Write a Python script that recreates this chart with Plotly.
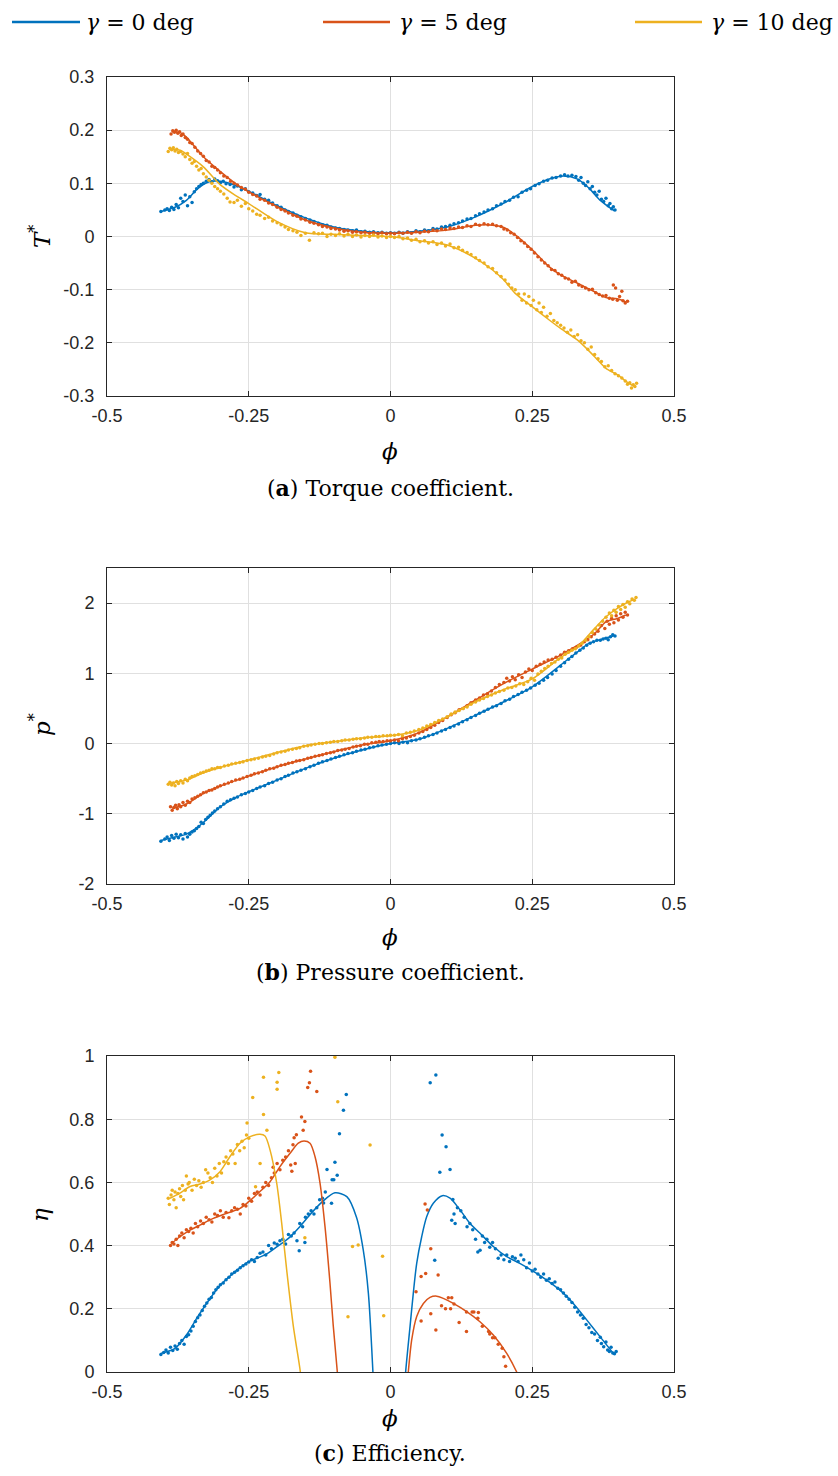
import plotly.graph_objects as go

W, H = 838, 1476

BLUE = "#0072BD"
ORANGE = "#D95319"
YELLOW = "#EDB120"

SERIES_NAMES = ["γ = 0 deg", "γ = 5 deg", "γ = 10 deg"]

X_TICKS = [-0.5, -0.25, 0, 0.25, 0.5]
X_TICK_TEXT = ["-0.5", "-0.25", "0", "0.25", "0.5"]
T_TICKS = [-0.3, -0.2, -0.1, 0, 0.1, 0.2, 0.3]
T_TICK_TEXT = ["-0.3", "-0.2", "-0.1", "0", "0.1", "0.2", "0.3"]
P_TICKS = [-2, -1, 0, 1, 2]
P_TICK_TEXT = ["-2", "-1", "0", "1", "2"]
E_TICKS = [0, 0.2, 0.4, 0.6, 0.8, 1.0]
E_TICK_TEXT = ["0", "0.2", "0.4", "0.6", "0.8", "1"]

# ---------------- (a) torque coefficient: fitted lines ----------------
T_BLUE_LINE_X = [-0.405, -0.38, -0.36, -0.34, -0.32, -0.30, -0.27, -0.25, -0.2, -0.15, -0.1, -0.05, 0, 0.05, 0.1, 0.15, 0.2, 0.25, 0.28, 0.305, 0.33, 0.35, 0.37, 0.395]
T_BLUE_LINE_Y = [0.047, 0.055, 0.068, 0.09, 0.103, 0.104, 0.095, 0.085, 0.058, 0.035, 0.018, 0.01, 0.007, 0.01, 0.018, 0.037, 0.063, 0.094, 0.108, 0.114, 0.108, 0.091, 0.068, 0.048]
T_ORANGE_LINE_X = [-0.385, -0.37, -0.36, -0.33, -0.3, -0.27, -0.25, -0.2, -0.15, -0.1, -0.05, 0, 0.05, 0.1, 0.15, 0.17, 0.2, 0.22, 0.25, 0.28, 0.3, 0.33, 0.36, 0.38, 0.4, 0.415]
T_ORANGE_LINE_Y = [0.197, 0.195, 0.187, 0.15, 0.122, 0.097, 0.084, 0.056, 0.031, 0.016, 0.008, 0.006, 0.008, 0.012, 0.021, 0.022, 0.017, 0.003, -0.025, -0.057, -0.072, -0.088, -0.104, -0.115, -0.117, -0.123]
T_YELLOW_LINE_X = [-0.39, -0.37, -0.36, -0.33, -0.3, -0.27, -0.25, -0.2, -0.15, -0.1, -0.05, 0, 0.05, 0.1, 0.15, 0.18, 0.2, 0.22, 0.25, 0.28, 0.3, 0.33, 0.36, 0.38, 0.4, 0.42, 0.43]
T_YELLOW_LINE_Y = [0.164, 0.162, 0.155, 0.131, 0.097, 0.075, 0.062, 0.028, 0.007, 0.004, 0.002, 0.0, -0.008, -0.016, -0.041, -0.063, -0.082, -0.107, -0.132, -0.157, -0.173, -0.195, -0.226, -0.248, -0.26, -0.276, -0.282]

# ---------------- (a) torque coefficient: measured points ----------------
T_BLUE_DOTS = [(-0.405, 0.047), (-0.398, 0.05), (-0.394, 0.052), (-0.39, 0.049), (-0.386, 0.055), (-0.382, 0.051), (-0.378, 0.06), (-0.374, 0.054), (-0.37, 0.072), (-0.366, 0.066), (-0.362, 0.078), (-0.358, 0.058), (-0.354, 0.075), (-0.35, 0.064), (-0.346, 0.084), (-0.342, 0.09), (-0.338, 0.094), (-0.334, 0.098), (-0.33, 0.1), (-0.325, 0.104), (-0.32, 0.107), (-0.315, 0.103), (-0.31, 0.108), (-0.305, 0.105), (-0.3, 0.101), (-0.295, 0.104), (-0.29, 0.099), (-0.283, 0.098), (-0.276, 0.093), (-0.27, 0.095), (-0.263, 0.088), (-0.256, 0.09), (-0.25, 0.084), (-0.243, 0.082), (-0.236, 0.077), (-0.23, 0.079), (-0.222, 0.07), (-0.215, 0.068), (-0.208, 0.063), (-0.2, 0.058), (-0.193, 0.055), (-0.186, 0.05), (-0.18, 0.047), (-0.172, 0.044), (-0.165, 0.04), (-0.158, 0.037), (-0.15, 0.034), (-0.142, 0.031), (-0.135, 0.028), (-0.127, 0.025), (-0.12, 0.022), (-0.112, 0.021), (-0.105, 0.018), (-0.097, 0.016), (-0.09, 0.015), (-0.082, 0.013), (-0.075, 0.012), (-0.067, 0.011), (-0.06, 0.012), (-0.052, 0.009), (-0.045, 0.01), (-0.037, 0.008), (-0.03, 0.009), (-0.022, 0.007), (-0.015, 0.008), (-0.007, 0.006), (0.0, 0.007),
               (0.007, 0.006), (0.015, 0.008), (0.022, 0.006), (0.03, 0.009), (0.037, 0.007), (0.045, 0.011), (0.052, 0.009), (0.06, 0.012), (0.067, 0.011), (0.075, 0.015), (0.082, 0.014), (0.09, 0.018), (0.097, 0.019), (0.105, 0.021), (0.112, 0.024), (0.12, 0.026), (0.127, 0.029), (0.135, 0.033), (0.142, 0.034), (0.15, 0.039), (0.157, 0.043), (0.165, 0.046), (0.172, 0.05), (0.18, 0.052), (0.187, 0.058), (0.195, 0.061), (0.202, 0.066), (0.21, 0.068), (0.217, 0.074), (0.225, 0.075), (0.232, 0.083), (0.24, 0.087), (0.247, 0.09), (0.255, 0.096), (0.262, 0.099), (0.27, 0.104), (0.277, 0.106), (0.285, 0.11), (0.292, 0.111), (0.3, 0.114), (0.307, 0.116), (0.313, 0.114), (0.32, 0.115), (0.327, 0.113), (0.332, 0.106), (0.336, 0.111), (0.34, 0.1), (0.344, 0.096), (0.348, 0.103), (0.352, 0.09), (0.356, 0.094), (0.36, 0.083), (0.364, 0.078), (0.368, 0.085), (0.372, 0.07), (0.376, 0.066), (0.38, 0.072), (0.384, 0.058), (0.387, 0.062), (0.39, 0.052), (0.393, 0.056), (0.396, 0.05)]
T_ORANGE_DOTS = [(-0.387, 0.193), (-0.384, 0.199), (-0.381, 0.196), (-0.378, 0.2), (-0.375, 0.194), (-0.372, 0.197), (-0.369, 0.19), (-0.366, 0.193), (-0.362, 0.186), (-0.358, 0.183), (-0.354, 0.177), (-0.35, 0.175), (-0.345, 0.168), (-0.34, 0.161), (-0.335, 0.156), (-0.33, 0.151), (-0.325, 0.143), (-0.32, 0.14), (-0.315, 0.132), (-0.31, 0.13), (-0.305, 0.125), (-0.3, 0.12), (-0.294, 0.114), (-0.288, 0.111), (-0.282, 0.104), (-0.276, 0.1), (-0.27, 0.097), (-0.263, 0.092), (-0.256, 0.089), (-0.25, 0.083), (-0.243, 0.079), (-0.236, 0.076), (-0.23, 0.07), (-0.222, 0.068), (-0.215, 0.063), (-0.208, 0.06), (-0.2, 0.055), (-0.193, 0.051), (-0.186, 0.048), (-0.18, 0.044), (-0.172, 0.04), (-0.165, 0.038), (-0.158, 0.033), (-0.15, 0.031), (-0.142, 0.027), (-0.135, 0.025), (-0.127, 0.022), (-0.12, 0.019), (-0.112, 0.018), (-0.105, 0.015), (-0.097, 0.014), (-0.09, 0.012), (-0.082, 0.01), (-0.075, 0.011), (-0.067, 0.008), (-0.06, 0.009), (-0.052, 0.007), (-0.045, 0.008), (-0.037, 0.006), (-0.03, 0.007), (-0.022, 0.005), (-0.015, 0.007), (-0.007, 0.005), (0.0, 0.006),
                 (0.007, 0.005), (0.015, 0.007), (0.022, 0.006), (0.03, 0.008), (0.037, 0.006), (0.045, 0.009), (0.052, 0.007), (0.06, 0.01), (0.067, 0.009), (0.075, 0.012), (0.082, 0.011), (0.09, 0.014), (0.097, 0.013), (0.105, 0.016), (0.112, 0.015), (0.12, 0.018), (0.127, 0.017), (0.135, 0.02), (0.142, 0.019), (0.15, 0.023), (0.157, 0.021), (0.165, 0.024), (0.172, 0.022), (0.18, 0.023), (0.187, 0.02), (0.195, 0.019), (0.2, 0.014), (0.206, 0.012), (0.212, 0.007), (0.218, 0.004), (0.224, -0.002), (0.23, -0.008), (0.236, -0.012), (0.242, -0.019), (0.248, -0.024), (0.254, -0.031), (0.26, -0.038), (0.266, -0.044), (0.272, -0.05), (0.278, -0.055), (0.284, -0.062), (0.29, -0.064), (0.296, -0.07), (0.302, -0.073), (0.308, -0.078), (0.314, -0.08), (0.32, -0.086), (0.326, -0.084), (0.332, -0.091), (0.338, -0.094), (0.344, -0.097), (0.35, -0.1), (0.356, -0.099), (0.362, -0.106), (0.368, -0.109), (0.374, -0.112), (0.38, -0.111), (0.386, -0.116), (0.392, -0.118), (0.393, -0.091), (0.397, -0.097), (0.4, -0.12), (0.404, -0.113), (0.408, -0.103), (0.41, -0.121), (0.414, -0.125), (0.418, -0.122)]
T_YELLOW_DOTS = [(-0.392, 0.16), (-0.389, 0.166), (-0.386, 0.163), (-0.383, 0.167), (-0.38, 0.161), (-0.377, 0.164), (-0.374, 0.158), (-0.37, 0.16), (-0.366, 0.155), (-0.362, 0.15), (-0.358, 0.156), (-0.354, 0.145), (-0.35, 0.138), (-0.346, 0.141), (-0.342, 0.132), (-0.338, 0.125), (-0.334, 0.128), (-0.33, 0.118), (-0.325, 0.112), (-0.32, 0.106), (-0.315, 0.1), (-0.31, 0.094), (-0.305, 0.09), (-0.3, 0.085), (-0.294, 0.08), (-0.288, 0.072), (-0.283, 0.065), (-0.276, 0.064), (-0.27, 0.068), (-0.263, 0.057), (-0.256, 0.062), (-0.25, 0.052), (-0.243, 0.048), (-0.236, 0.042), (-0.23, 0.04), (-0.222, 0.034), (-0.215, 0.036), (-0.208, 0.029), (-0.2, 0.026), (-0.193, 0.022), (-0.186, 0.018), (-0.18, 0.013), (-0.172, 0.011), (-0.165, 0.008), (-0.158, 0.002), (-0.15, 0.006), (-0.143, -0.007), (-0.135, 0.007), (-0.127, 0.005), (-0.12, 0.006), (-0.112, 0.0), (-0.105, 0.004), (-0.097, 0.002), (-0.09, 0.005), (-0.082, 0.001), (-0.075, 0.004), (-0.067, 0.0), (-0.06, 0.003), (-0.052, -0.001), (-0.045, 0.002), (-0.037, 0.0), (-0.03, 0.003), (-0.022, -0.001), (-0.015, 0.001), (-0.007, -0.002), (0.0, 0.0),
                 (0.007, -0.002), (0.015, 0.0), (0.022, -0.004), (0.03, -0.003), (0.037, -0.007), (0.045, -0.005), (0.052, -0.01), (0.06, -0.008), (0.067, -0.012), (0.075, -0.01), (0.082, -0.015), (0.09, -0.012), (0.097, -0.018), (0.105, -0.014), (0.112, -0.021), (0.12, -0.02), (0.127, -0.026), (0.135, -0.03), (0.142, -0.034), (0.15, -0.04), (0.157, -0.045), (0.165, -0.05), (0.172, -0.057), (0.18, -0.06), (0.187, -0.068), (0.195, -0.075), (0.202, -0.082), (0.208, -0.09), (0.214, -0.097), (0.22, -0.1), (0.226, -0.108), (0.232, -0.12), (0.236, -0.108), (0.24, -0.125), (0.244, -0.113), (0.248, -0.13), (0.252, -0.12), (0.258, -0.138), (0.262, -0.125), (0.266, -0.143), (0.27, -0.133), (0.276, -0.15), (0.282, -0.145), (0.288, -0.158), (0.294, -0.162), (0.3, -0.167), (0.306, -0.172), (0.312, -0.18), (0.318, -0.176), (0.324, -0.188), (0.33, -0.185), (0.336, -0.196), (0.342, -0.2), (0.348, -0.212), (0.354, -0.208), (0.36, -0.222), (0.366, -0.23), (0.372, -0.235), (0.378, -0.245), (0.384, -0.243), (0.39, -0.252), (0.396, -0.258), (0.402, -0.262), (0.408, -0.266), (0.414, -0.272), (0.418, -0.278), (0.422, -0.275), (0.425, -0.285), (0.428, -0.279), (0.431, -0.282), (0.434, -0.276)]

# ---------------- (b) pressure coefficient: fitted lines ----------------
P_BLUE_LINE_X = [-0.405, -0.38, -0.36, -0.34, -0.32, -0.3, -0.27, -0.25, -0.2, -0.15, -0.1, -0.05, 0, 0.05, 0.1, 0.15, 0.2, 0.25, 0.3, 0.33, 0.35, 0.37, 0.395]
P_BLUE_LINE_Y = [-1.38, -1.33, -1.29, -1.19, -1.05, -0.9, -0.757, -0.686, -0.52, -0.354, -0.21, -0.092, 0.0, 0.06, 0.216, 0.405, 0.595, 0.808, 1.117, 1.307, 1.426, 1.48, 1.54]
P_ORANGE_LINE_X = [-0.385, -0.36, -0.33, -0.3, -0.25, -0.2, -0.15, -0.1, -0.05, 0, 0.05, 0.1, 0.15, 0.2, 0.25, 0.3, 0.33, 0.36, 0.38, 0.4, 0.415]
P_ORANGE_LINE_Y = [-0.922, -0.86, -0.71, -0.605, -0.463, -0.33, -0.22, -0.116, -0.02, 0.04, 0.154, 0.38, 0.62, 0.857, 1.06, 1.26, 1.40, 1.568, 1.733, 1.78, 1.83]
P_YELLOW_LINE_X = [-0.39, -0.36, -0.33, -0.3, -0.25, -0.2, -0.15, -0.1, -0.05, 0, 0.05, 0.1, 0.15, 0.2, 0.25, 0.3, 0.33, 0.36, 0.38, 0.4, 0.42, 0.43]
P_YELLOW_LINE_Y = [-0.567, -0.52, -0.415, -0.34, -0.235, -0.126, -0.03, 0.027, 0.08, 0.11, 0.19, 0.38, 0.595, 0.77, 0.92, 1.226, 1.378, 1.64, 1.805, 1.925, 2.02, 2.05]

# ---------------- (b) pressure coefficient: measured points ----------------
P_BLUE_DOTS = [(-0.405, -1.39), (-0.398, -1.36), (-0.394, -1.33), (-0.39, -1.38), (-0.386, -1.31), (-0.382, -1.35), (-0.378, -1.29), (-0.374, -1.34), (-0.37, -1.3), (-0.366, -1.36), (-0.362, -1.28), (-0.358, -1.33), (-0.354, -1.29), (-0.35, -1.26), (-0.346, -1.24), (-0.342, -1.21), (-0.338, -1.18), (-0.334, -1.12), (-0.33, -1.14), (-0.326, -1.08), (-0.322, -1.05), (-0.318, -1.02), (-0.314, -0.99), (-0.31, -0.96), (-0.305, -0.93), (-0.3, -0.9), (-0.294, -0.86), (-0.288, -0.82), (-0.282, -0.8), (-0.276, -0.78), (-0.27, -0.76), (-0.263, -0.73), (-0.256, -0.71), (-0.25, -0.69), (-0.243, -0.67), (-0.236, -0.64), (-0.23, -0.62), (-0.222, -0.6), (-0.215, -0.57), (-0.208, -0.55), (-0.2, -0.52), (-0.193, -0.5), (-0.186, -0.47), (-0.18, -0.45), (-0.172, -0.42), (-0.165, -0.4), (-0.158, -0.38), (-0.15, -0.36), (-0.142, -0.33), (-0.135, -0.31), (-0.127, -0.28), (-0.12, -0.26), (-0.112, -0.24), (-0.105, -0.22), (-0.097, -0.2), (-0.09, -0.18), (-0.082, -0.16), (-0.075, -0.14), (-0.067, -0.13), (-0.06, -0.11), (-0.052, -0.09), (-0.045, -0.08), (-0.037, -0.06), (-0.03, -0.05), (-0.022, -0.03), (-0.015, -0.02), (-0.007, -0.01), (0.0, 0.0),
               (0.007, 0.01), (0.015, 0.0), (0.022, 0.02), (0.03, 0.01), (0.037, 0.04), (0.045, 0.05), (0.052, 0.07), (0.06, 0.09), (0.067, 0.11), (0.075, 0.13), (0.082, 0.15), (0.09, 0.18), (0.097, 0.2), (0.105, 0.23), (0.112, 0.25), (0.12, 0.28), (0.127, 0.31), (0.135, 0.34), (0.142, 0.37), (0.15, 0.4), (0.157, 0.43), (0.165, 0.46), (0.172, 0.49), (0.18, 0.52), (0.187, 0.54), (0.195, 0.57), (0.202, 0.61), (0.21, 0.63), (0.217, 0.67), (0.225, 0.7), (0.232, 0.73), (0.24, 0.76), (0.247, 0.79), (0.255, 0.83), (0.262, 0.86), (0.27, 0.9), (0.277, 0.94), (0.285, 0.99), (0.292, 1.04), (0.3, 1.1), (0.307, 1.15), (0.314, 1.2), (0.32, 1.24), (0.327, 1.29), (0.334, 1.33), (0.34, 1.36), (0.346, 1.4), (0.352, 1.43), (0.358, 1.45), (0.364, 1.47), (0.37, 1.47), (0.375, 1.49), (0.38, 1.5), (0.384, 1.48), (0.388, 1.52), (0.392, 1.55), (0.396, 1.53)]
P_ORANGE_DOTS = [(-0.388, -0.9), (-0.385, -0.95), (-0.382, -0.91), (-0.379, -0.88), (-0.376, -0.93), (-0.373, -0.87), (-0.37, -0.9), (-0.366, -0.84), (-0.362, -0.88), (-0.358, -0.82), (-0.354, -0.84), (-0.35, -0.79), (-0.345, -0.77), (-0.34, -0.75), (-0.335, -0.73), (-0.33, -0.7), (-0.325, -0.69), (-0.32, -0.67), (-0.315, -0.66), (-0.31, -0.64), (-0.305, -0.62), (-0.3, -0.6), (-0.293, -0.58), (-0.286, -0.56), (-0.28, -0.54), (-0.273, -0.52), (-0.266, -0.51), (-0.26, -0.49), (-0.253, -0.47), (-0.246, -0.45), (-0.24, -0.43), (-0.233, -0.42), (-0.226, -0.4), (-0.22, -0.38), (-0.213, -0.36), (-0.206, -0.35), (-0.2, -0.33), (-0.193, -0.31), (-0.186, -0.3), (-0.18, -0.28), (-0.173, -0.27), (-0.166, -0.25), (-0.16, -0.24), (-0.153, -0.23), (-0.146, -0.21), (-0.14, -0.2), (-0.133, -0.18), (-0.126, -0.17), (-0.12, -0.16), (-0.113, -0.14), (-0.106, -0.13), (-0.1, -0.12), (-0.093, -0.1), (-0.086, -0.09), (-0.08, -0.08), (-0.073, -0.07), (-0.066, -0.05), (-0.06, -0.04), (-0.053, -0.03), (-0.046, -0.01), (-0.04, -0.01), (-0.033, 0.01), (-0.026, 0.02), (-0.02, 0.03), (-0.013, 0.03), (-0.006, 0.04), (0.0, 0.04),
                 (0.007, 0.05), (0.014, 0.04), (0.021, 0.07), (0.028, 0.08), (0.035, 0.1), (0.042, 0.12), (0.05, 0.15), (0.057, 0.17), (0.064, 0.2), (0.071, 0.23), (0.078, 0.26), (0.085, 0.3), (0.092, 0.33), (0.1, 0.37), (0.107, 0.41), (0.114, 0.44), (0.121, 0.48), (0.128, 0.5), (0.135, 0.54), (0.142, 0.58), (0.15, 0.62), (0.157, 0.65), (0.164, 0.69), (0.171, 0.71), (0.178, 0.75), (0.185, 0.8), (0.192, 0.84), (0.2, 0.87), (0.205, 0.93), (0.21, 0.89), (0.215, 0.95), (0.22, 0.91), (0.226, 0.98), (0.232, 0.94), (0.238, 1.02), (0.244, 1.06), (0.25, 1.04), (0.257, 1.1), (0.264, 1.13), (0.271, 1.16), (0.278, 1.19), (0.285, 1.2), (0.292, 1.23), (0.3, 1.26), (0.307, 1.3), (0.314, 1.32), (0.321, 1.35), (0.328, 1.37), (0.335, 1.4), (0.342, 1.45), (0.348, 1.48), (0.354, 1.52), (0.36, 1.56), (0.366, 1.6), (0.372, 1.68), (0.378, 1.64), (0.382, 1.74), (0.386, 1.7), (0.39, 1.78), (0.394, 1.72), (0.398, 1.82), (0.402, 1.76), (0.406, 1.85), (0.41, 1.8), (0.414, 1.87), (0.418, 1.83)]
P_YELLOW_DOTS = [(-0.392, -0.58), (-0.389, -0.55), (-0.386, -0.59), (-0.383, -0.56), (-0.38, -0.6), (-0.377, -0.54), (-0.374, -0.57), (-0.37, -0.53), (-0.366, -0.56), (-0.362, -0.51), (-0.358, -0.53), (-0.354, -0.49), (-0.35, -0.47), (-0.345, -0.46), (-0.34, -0.44), (-0.335, -0.42), (-0.33, -0.41), (-0.325, -0.39), (-0.32, -0.38), (-0.315, -0.36), (-0.31, -0.36), (-0.305, -0.34), (-0.3, -0.34), (-0.293, -0.32), (-0.286, -0.31), (-0.28, -0.29), (-0.273, -0.28), (-0.266, -0.27), (-0.26, -0.26), (-0.253, -0.24), (-0.246, -0.23), (-0.24, -0.22), (-0.233, -0.21), (-0.226, -0.19), (-0.22, -0.18), (-0.213, -0.17), (-0.206, -0.15), (-0.2, -0.13), (-0.193, -0.12), (-0.186, -0.11), (-0.18, -0.09), (-0.173, -0.08), (-0.166, -0.07), (-0.16, -0.06), (-0.153, -0.04), (-0.146, -0.03), (-0.14, -0.02), (-0.133, -0.01), (-0.126, 0.0), (-0.12, 0.0), (-0.113, 0.01), (-0.106, 0.02), (-0.1, 0.03), (-0.093, 0.03), (-0.086, 0.04), (-0.08, 0.05), (-0.073, 0.05), (-0.066, 0.06), (-0.06, 0.07), (-0.053, 0.07), (-0.046, 0.08), (-0.04, 0.09), (-0.033, 0.09), (-0.026, 0.1), (-0.02, 0.1), (-0.013, 0.11), (-0.006, 0.11), (0.0, 0.12),
                 (0.007, 0.12), (0.014, 0.13), (0.021, 0.11), (0.028, 0.15), (0.035, 0.16), (0.042, 0.18), (0.05, 0.2), (0.057, 0.22), (0.064, 0.25), (0.071, 0.27), (0.078, 0.3), (0.085, 0.33), (0.092, 0.35), (0.1, 0.38), (0.107, 0.42), (0.114, 0.45), (0.121, 0.47), (0.128, 0.5), (0.135, 0.52), (0.142, 0.56), (0.15, 0.59), (0.157, 0.62), (0.164, 0.64), (0.171, 0.67), (0.178, 0.69), (0.185, 0.72), (0.192, 0.74), (0.2, 0.76), (0.207, 0.79), (0.214, 0.8), (0.221, 0.82), (0.228, 0.85), (0.235, 0.84), (0.242, 0.88), (0.248, 0.93), (0.254, 0.9), (0.26, 0.99), (0.266, 1.03), (0.272, 1.07), (0.278, 1.1), (0.284, 1.14), (0.29, 1.16), (0.296, 1.2), (0.302, 1.22), (0.308, 1.27), (0.314, 1.3), (0.32, 1.33), (0.326, 1.35), (0.332, 1.39), (0.338, 1.43), (0.344, 1.47), (0.35, 1.52), (0.356, 1.58), (0.362, 1.63), (0.368, 1.69), (0.374, 1.74), (0.38, 1.8), (0.386, 1.86), (0.39, 1.82), (0.394, 1.9), (0.398, 1.87), (0.402, 1.95), (0.406, 1.91), (0.41, 1.98), (0.414, 1.94), (0.418, 2.02), (0.422, 1.99), (0.426, 2.06), (0.43, 2.04), (0.433, 2.08)]

# ---------------- (c) efficiency: fitted lines (two branches each) ----------------
E_BLUE_LEFT_X = [-0.405, -0.38, -0.36, -0.34, -0.32, -0.3, -0.27, -0.25, -0.22, -0.2, -0.18, -0.16, -0.14, -0.12, -0.098, -0.077, -0.06, -0.048, -0.039, -0.031, -0.029]
E_BLUE_LEFT_Y = [0.059, 0.075, 0.117, 0.175, 0.228, 0.275, 0.323, 0.349, 0.372, 0.397, 0.423, 0.46, 0.502, 0.539, 0.567, 0.555, 0.49, 0.386, 0.249, 0.0, -0.08]
E_BLUE_RIGHT_X = [0.025, 0.0267, 0.0344, 0.0402, 0.0462, 0.055, 0.0638, 0.0755, 0.0914, 0.105, 0.1226, 0.1402, 0.158, 0.1813, 0.205, 0.228, 0.25, 0.2755, 0.299, 0.3224, 0.346, 0.3695, 0.393]
E_BLUE_RIGHT_Y = [-0.05, 0.0, 0.143, 0.249, 0.344, 0.428, 0.491, 0.534, 0.558, 0.55, 0.513, 0.47, 0.439, 0.397, 0.365, 0.344, 0.321, 0.291, 0.259, 0.217, 0.165, 0.112, 0.059]
E_ORANGE_LEFT_X = [-0.386, -0.3713, -0.3536, -0.336, -0.3125, -0.289, -0.2654, -0.25, -0.2302, -0.2125, -0.1949, -0.1772, -0.1626, -0.1526, -0.142, -0.1332, -0.1243, -0.1155, -0.1067, -0.1009, -0.0938, -0.092]
E_ORANGE_LEFT_Y = [0.407, 0.428, 0.449, 0.465, 0.486, 0.502, 0.518, 0.539, 0.571, 0.602, 0.65, 0.692, 0.724, 0.731, 0.724, 0.682, 0.598, 0.46, 0.281, 0.145, 0.0, -0.05]
E_ORANGE_RIGHT_X = [0.029, 0.0314, 0.0373, 0.0462, 0.058, 0.0697, 0.0815, 0.0931, 0.1108, 0.1344, 0.1578, 0.1813, 0.205, 0.2226, 0.226]
E_ORANGE_RIGHT_Y = [-0.05, 0.0, 0.101, 0.176, 0.217, 0.236, 0.24, 0.233, 0.217, 0.191, 0.159, 0.117, 0.059, 0.0, -0.015]
E_YELLOW_LEFT_X = [-0.389, -0.3713, -0.3536, -0.336, -0.3183, -0.3007, -0.283, -0.2654, -0.2478, -0.2302, -0.2213, -0.2125, -0.2007, -0.1919, -0.1831, -0.1714, -0.159, -0.157]
E_YELLOW_LEFT_Y = [0.55, 0.566, 0.587, 0.595, 0.608, 0.634, 0.682, 0.724, 0.745, 0.752, 0.747, 0.703, 0.598, 0.471, 0.323, 0.145, 0.0, -0.05]

# ---------------- (c) efficiency: measured points ----------------
E_BLUE_DOTS = [(-0.405, 0.055), (-0.4, 0.062), (-0.396, 0.07), (-0.392, 0.06), (-0.388, 0.078), (-0.384, 0.068), (-0.38, 0.082), (-0.376, 0.072), (-0.372, 0.09), (-0.368, 0.1), (-0.364, 0.088), (-0.36, 0.112), (-0.356, 0.118), (-0.352, 0.13), (-0.348, 0.145), (-0.344, 0.16), (-0.34, 0.172), (-0.336, 0.18), (-0.332, 0.195), (-0.328, 0.208), (-0.324, 0.218), (-0.32, 0.23), (-0.316, 0.236), (-0.312, 0.25), (-0.308, 0.26), (-0.304, 0.268), (-0.3, 0.276), (-0.295, 0.282), (-0.29, 0.292), (-0.285, 0.3), (-0.28, 0.31), (-0.275, 0.316), (-0.27, 0.322), (-0.265, 0.33), (-0.26, 0.336), (-0.255, 0.342), (-0.25, 0.348), (-0.245, 0.355), (-0.24, 0.35), (-0.235, 0.362), (-0.23, 0.376), (-0.225, 0.38), (-0.22, 0.37), (-0.215, 0.4), (-0.21, 0.39), (-0.205, 0.408), (-0.2, 0.404), (-0.195, 0.415), (-0.19, 0.42), (-0.185, 0.405), (-0.18, 0.435), (-0.175, 0.43), (-0.17, 0.44), (-0.165, 0.415), (-0.16, 0.47), (-0.155, 0.46), (-0.15, 0.49), (-0.145, 0.5), (-0.14, 0.51), (-0.135, 0.5), (-0.13, 0.52), (-0.125, 0.545), (-0.12, 0.55), (-0.115, 0.57),
               (-0.078, 0.878), (-0.083, 0.828), (-0.09, 0.754), (-0.098, 0.664), (-0.094, 0.623), (-0.1, 0.608), (-0.103, 0.608), (-0.112, 0.641), (-0.104, 0.534), (-0.161, 0.384), (-0.151, 0.41), (-0.118, 0.535),
               (0.07, 0.915), (0.08, 0.94), (0.091, 0.75), (0.098, 0.713), (0.087, 0.632), (0.105, 0.641), (0.078, 0.354),
               (0.11, 0.546), (0.112, 0.5), (0.114, 0.47), (0.108, 0.48), (0.118, 0.52), (0.124, 0.51), (0.13, 0.49), (0.135, 0.46), (0.14, 0.47), (0.145, 0.45), (0.15, 0.42), (0.154, 0.38), (0.158, 0.385), (0.162, 0.43), (0.166, 0.41), (0.17, 0.42), (0.175, 0.395), (0.18, 0.41), (0.185, 0.39), (0.19, 0.36), (0.195, 0.37), (0.2, 0.355), (0.205, 0.37), (0.21, 0.35), (0.215, 0.365), (0.22, 0.36), (0.225, 0.35), (0.23, 0.37), (0.235, 0.355), (0.24, 0.33), (0.245, 0.345), (0.25, 0.32), (0.255, 0.325), (0.26, 0.31), (0.265, 0.3), (0.27, 0.31), (0.275, 0.29), (0.28, 0.295), (0.285, 0.28), (0.29, 0.285), (0.295, 0.265), (0.3, 0.26), (0.305, 0.25), (0.31, 0.24), (0.315, 0.23), (0.32, 0.22), (0.325, 0.205), (0.33, 0.19), (0.335, 0.18), (0.34, 0.17), (0.345, 0.15), (0.35, 0.14), (0.355, 0.125), (0.36, 0.12), (0.365, 0.1), (0.37, 0.11), (0.372, 0.09), (0.376, 0.08), (0.38, 0.095), (0.383, 0.07), (0.386, 0.065), (0.389, 0.078), (0.392, 0.06), (0.395, 0.058), (0.398, 0.065)]
E_ORANGE_DOTS = [(-0.388, 0.4), (-0.385, 0.41), (-0.382, 0.405), (-0.378, 0.42), (-0.375, 0.4), (-0.372, 0.43), (-0.368, 0.44), (-0.364, 0.425), (-0.36, 0.45), (-0.356, 0.445), (-0.352, 0.455), (-0.348, 0.44), (-0.344, 0.47), (-0.34, 0.46), (-0.335, 0.478), (-0.33, 0.47), (-0.325, 0.49), (-0.32, 0.482), (-0.315, 0.475), (-0.31, 0.5), (-0.305, 0.495), (-0.3, 0.51), (-0.295, 0.49), (-0.29, 0.505), (-0.285, 0.488), (-0.28, 0.51), (-0.275, 0.52), (-0.27, 0.515), (-0.265, 0.5), (-0.26, 0.53), (-0.255, 0.525), (-0.25, 0.55), (-0.245, 0.54), (-0.24, 0.565), (-0.235, 0.57), (-0.23, 0.56), (-0.225, 0.585), (-0.22, 0.6), (-0.215, 0.59), (-0.21, 0.615), (-0.205, 0.63), (-0.2, 0.66), (-0.195, 0.64), (-0.19, 0.67), (-0.185, 0.68), (-0.18, 0.7),
                 (-0.141, 0.952), (-0.146, 0.9), (-0.143, 0.915), (-0.13, 0.888), (-0.157, 0.807), (-0.151, 0.793), (-0.154, 0.765), (-0.17, 0.741), (-0.166, 0.751), (-0.172, 0.719), (-0.168, 0.66), (-0.176, 0.655), (-0.174, 0.635), (-0.207, 0.648),
                 (0.061, 0.532), (0.065, 0.513), (0.071, 0.39), (0.084, 0.307), (0.062, 0.312), (0.054, 0.302), (0.045, 0.254), (0.071, 0.184), (0.08, 0.133), (0.054, 0.161), (0.09, 0.21), (0.097, 0.2), (0.102, 0.235), (0.108, 0.235), (0.106, 0.2), (0.112, 0.215), (0.121, 0.157), (0.134, 0.128), (0.134, 0.19), (0.144, 0.19), (0.147, 0.19), (0.155, 0.188), (0.154, 0.17), (0.162, 0.145), (0.173, 0.128), (0.175, 0.12), (0.18, 0.108), (0.184, 0.108), (0.19, 0.088), (0.197, 0.075), (0.2, 0.048), (0.203, 0.018)]
E_YELLOW_DOTS = [(-0.392, 0.55), (-0.39, 0.53), (-0.387, 0.56), (-0.385, 0.575), (-0.382, 0.545), (-0.38, 0.57), (-0.378, 0.52), (-0.375, 0.565), (-0.372, 0.58), (-0.37, 0.555), (-0.367, 0.59), (-0.365, 0.545), (-0.362, 0.575), (-0.36, 0.62), (-0.357, 0.595), (-0.355, 0.6), (-0.35, 0.575), (-0.346, 0.61), (-0.342, 0.59), (-0.338, 0.605), (-0.334, 0.585), (-0.33, 0.6), (-0.326, 0.64), (-0.322, 0.63), (-0.318, 0.615), (-0.314, 0.6), (-0.31, 0.645), (-0.306, 0.62), (-0.302, 0.66), (-0.298, 0.63), (-0.294, 0.665), (-0.29, 0.68), (-0.286, 0.66), (-0.282, 0.7), (-0.278, 0.69), (-0.274, 0.66), (-0.27, 0.72), (-0.266, 0.7), (-0.262, 0.73), (-0.258, 0.71), (-0.254, 0.75), (-0.25, 0.74),
                 (-0.098, 0.996), (-0.197, 0.948), (-0.224, 0.933), (-0.2, 0.917), (-0.2, 0.895), (-0.243, 0.869), (-0.224, 0.815), (-0.253, 0.788), (-0.218, 0.765), (-0.093, 0.855), (-0.036, 0.718), (-0.23, 0.66), (-0.238, 0.586), (-0.151, 0.425), (-0.067, 0.397), (-0.057, 0.402), (-0.014, 0.366), (-0.075, 0.175), (-0.012, 0.178)]

# ---------------- layout geometry (pixels) ----------------
PLOT_LEFT, PLOT_RIGHT = 107, 674
PANELS = [(77, 396), (568, 884), (1056, 1372)]  # (top, bottom)

def fx(px):
    return px / W

def fy(py):
    return 1 - py / H

SERIF = "DejaVu Serif"
SANS = "Liberation Sans"
AXIS_COLOR = "#262626"
GRID_COLOR = "#e0e0e0"

fig = go.Figure()

def add_series(axis_idx, color, dots, lines):
    xa = "x" if axis_idx == 1 else f"x{axis_idx}"
    ya = "y" if axis_idx == 1 else f"y{axis_idx}"
    for lx, ly in lines:
        fig.add_trace(go.Scatter(x=lx, y=ly, mode="lines", xaxis=xa, yaxis=ya,
                                 line=dict(color=color, width=1.5, shape="spline", smoothing=0.8),
                                 showlegend=False, hoverinfo="skip", cliponaxis=True))
    fig.add_trace(go.Scatter(x=[d[0] for d in dots], y=[d[1] for d in dots], mode="markers",
                             xaxis=xa, yaxis=ya, marker=dict(color=color, size=3.5, line=dict(width=0)),
                             showlegend=False, hoverinfo="skip", cliponaxis=True))

add_series(1, BLUE, T_BLUE_DOTS, [(T_BLUE_LINE_X, T_BLUE_LINE_Y)])
add_series(1, ORANGE, T_ORANGE_DOTS, [(T_ORANGE_LINE_X, T_ORANGE_LINE_Y)])
add_series(1, YELLOW, T_YELLOW_DOTS, [(T_YELLOW_LINE_X, T_YELLOW_LINE_Y)])
add_series(2, BLUE, P_BLUE_DOTS, [(P_BLUE_LINE_X, P_BLUE_LINE_Y)])
add_series(2, ORANGE, P_ORANGE_DOTS, [(P_ORANGE_LINE_X, P_ORANGE_LINE_Y)])
add_series(2, YELLOW, P_YELLOW_DOTS, [(P_YELLOW_LINE_X, P_YELLOW_LINE_Y)])
add_series(3, BLUE, E_BLUE_DOTS, [(E_BLUE_LEFT_X, E_BLUE_LEFT_Y), (E_BLUE_RIGHT_X, E_BLUE_RIGHT_Y)])
add_series(3, ORANGE, E_ORANGE_DOTS, [(E_ORANGE_LEFT_X, E_ORANGE_LEFT_Y), (E_ORANGE_RIGHT_X, E_ORANGE_RIGHT_Y)])
add_series(3, YELLOW, E_YELLOW_DOTS, [(E_YELLOW_LEFT_X, E_YELLOW_LEFT_Y)])

common = dict(showline=True, linecolor=AXIS_COLOR, linewidth=1, mirror="ticks", ticks="inside",
              ticklen=5, tickcolor=AXIS_COLOR, showgrid=True, gridcolor=GRID_COLOR, gridwidth=1,
              zeroline=False, automargin=False, tickfont=dict(family=SANS, size=18, color=AXIS_COLOR))

y_specs = [([-0.3, 0.3], T_TICKS, T_TICK_TEXT), ([-2, 2.5], P_TICKS, P_TICK_TEXT), ([0, 1], E_TICKS, E_TICK_TEXT)]
layout_axes = {}
for i, ((top, bot), (yr, yt, ytt)) in enumerate(zip(PANELS, y_specs), start=1):
    sfx = "" if i == 1 else str(i)
    layout_axes[f"xaxis{sfx}"] = dict(common, domain=[fx(PLOT_LEFT), fx(PLOT_RIGHT)], anchor=f"y{sfx}",
                                      range=[-0.5, 0.5], tickvals=X_TICKS, ticktext=X_TICK_TEXT,
                                      ticklabelstandoff=3)
    layout_axes[f"yaxis{sfx}"] = dict(common, domain=[fy(bot), fy(top)], anchor=f"x{sfx}",
                                      range=yr, tickvals=yt, ticktext=ytt, ticklabelstandoff=8)

annotations = []
# axis titles
Y_TITLES = ["<i>T</i><sup>*</sup>", "<i>p</i><sup>*</sup>", "<i>η</i>"]
Y_TITLE_POS = [237, 725, 1215]
X_TITLE_POS = [451, 937, 1418]
CAPTIONS = ["(<b>a</b>) Torque coefficient.", "(<b>b</b>) Pressure coefficient.", "(<b>c</b>) Efficiency."]
CAPTION_POS = [488, 972, 1453]
for t, py in zip(Y_TITLES, Y_TITLE_POS):
    annotations.append(dict(text=t, x=fx(40), y=fy(py), xref="paper", yref="paper", showarrow=False,
                            textangle=-90, xanchor="center", yanchor="middle",
                            font=dict(family=SERIF, size=23, color="black")))
for py in X_TITLE_POS:
    annotations.append(dict(text="<i>ϕ</i>", x=fx(390), y=fy(py), xref="paper", yref="paper", showarrow=False,
                            xanchor="center", yanchor="middle", font=dict(family=SERIF, size=23, color="black")))
for t, py in zip(CAPTIONS, CAPTION_POS):
    annotations.append(dict(text=t, x=fx(390), y=fy(py), xref="paper", yref="paper", showarrow=False,
                            xanchor="center", yanchor="middle", font=dict(family=SERIF, size=22, color="black")))

# legend drawn at the top
shapes = []
LEG_Y = 22
LEG_ITEMS = [(12, 80, 84, BLUE), (323, 390, 397, ORANGE), (635, 702, 709, YELLOW)]
for (x0, x1, tx, col), name in zip(LEG_ITEMS, SERIES_NAMES):
    shapes.append(dict(type="line", xref="paper", yref="paper", x0=fx(x0), x1=fx(x1), y0=fy(LEG_Y), y1=fy(LEG_Y),
                       line=dict(color=col, width=2.5)))
    g, rest = name.split(" ", 1)
    annotations.append(dict(text=f"<i>{g}</i> {rest}", x=fx(tx), y=fy(LEG_Y), xref="paper", yref="paper",
                            showarrow=False, xanchor="left", yanchor="middle",
                            font=dict(family=SERIF, size=22, color="black")))

fig.update_layout(width=W, height=H, margin=dict(l=0, r=0, t=0, b=0), paper_bgcolor="white",
                  plot_bgcolor="white", showlegend=False, annotations=annotations, shapes=shapes,
                  **layout_axes)

fig.write_html("out.html")
